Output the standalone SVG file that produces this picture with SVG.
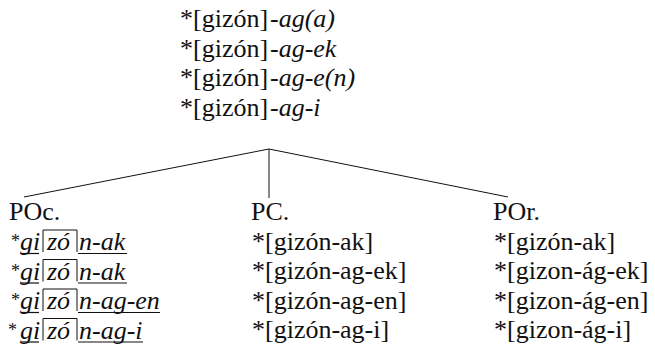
<svg xmlns="http://www.w3.org/2000/svg" width="655" height="351" viewBox="0 0 655 351">
<rect width="655" height="351" fill="#fff"/>
<g id="root" fill="#111">
<text font-family="Liberation Serif" font-size="26" x="180" y="27">*[gizón]</text><text font-family="Liberation Serif" font-size="26" font-style="italic" x="270" y="27">-ag(a)</text>
<text font-family="Liberation Serif" font-size="26" x="180" y="56.5">*[gizón]</text><text font-family="Liberation Serif" font-size="26" font-style="italic" x="270" y="56.5">-ag-ek</text>
<text font-family="Liberation Serif" font-size="26" x="180" y="86">*[gizón]</text><text font-family="Liberation Serif" font-size="26" font-style="italic" x="270" y="86">-ag-e(n)</text>
<text font-family="Liberation Serif" font-size="26" x="180" y="115.5">*[gizón]</text><text font-family="Liberation Serif" font-size="26" font-style="italic" x="270" y="115.5">-ag-i</text>
</g>
<g id="connectors" stroke="#111" stroke-width="1" fill="none">
<line x1="269" y1="149" x2="24" y2="197"/>
<line x1="269" y1="149" x2="508" y2="197"/>
<line x1="269" y1="149" x2="269" y2="198"/>
</g>
<g id="POc" fill="#111">
<text font-family="Liberation Serif" font-size="26" x="9" y="220">POc.</text>
<text font-family="Liberation Serif" font-size="18" x="11" y="247">*</text><text font-family="Liberation Serif" font-size="26" font-style="italic" x="20" y="250">gi</text><text font-family="Liberation Serif" font-size="26" font-style="italic" x="47" y="250">zó</text><text font-family="Liberation Serif" font-size="26" font-style="italic" x="79" y="250">n-ak</text>
<text font-family="Liberation Serif" font-size="18" x="11" y="276.5">*</text><text font-family="Liberation Serif" font-size="26" font-style="italic" x="20" y="279.5">gi</text><text font-family="Liberation Serif" font-size="26" font-style="italic" x="47" y="279.5">zó</text><text font-family="Liberation Serif" font-size="26" font-style="italic" x="79" y="279.5">n-ak</text>
<text font-family="Liberation Serif" font-size="18" x="11" y="306">*</text><text font-family="Liberation Serif" font-size="26" font-style="italic" x="20" y="309">gi</text><text font-family="Liberation Serif" font-size="26" font-style="italic" x="47" y="309">zó</text><text font-family="Liberation Serif" font-size="26" font-style="italic" x="79" y="309">n-ag-en</text>
<text font-family="Liberation Serif" font-size="18" x="8" y="335.5">*</text><text font-family="Liberation Serif" font-size="26" font-style="italic" x="20" y="338.5">gi</text><text font-family="Liberation Serif" font-size="26" font-style="italic" x="47" y="338.5">zó</text><text font-family="Liberation Serif" font-size="26" font-style="italic" x="79" y="338.5">n-ag-i</text>
<g stroke="#111" stroke-width="1" fill="none">
<path d="M43,252V230H77V252"/><path d="M43,281.5V259.5H77V281.5"/><path d="M43,311V289H77V311"/><path d="M43,340.5V318.5H77V340.5"/>
</g>
<g stroke="#111" stroke-width="1.2">
<line x1="21" y1="253.5" x2="39" y2="253.5"/><line x1="78" y1="253.5" x2="127" y2="253.5"/>
<line x1="21" y1="283" x2="39" y2="283"/><line x1="78" y1="283" x2="127" y2="283"/>
<line x1="21" y1="312.5" x2="39" y2="312.5"/><line x1="78" y1="312.5" x2="160" y2="312.5"/>
<line x1="21" y1="342" x2="39" y2="342"/><line x1="78" y1="342" x2="143" y2="342"/>
</g>
</g>
<g id="PC" fill="#111">
<text font-family="Liberation Serif" font-size="26" x="251" y="220">PC.</text>
<text font-family="Liberation Serif" font-size="26" x="252" y="249.5">*[gizón-ak]</text>
<text font-family="Liberation Serif" font-size="26" x="252" y="279">*[gizón-ag-ek]</text>
<text font-family="Liberation Serif" font-size="26" x="252" y="308.5">*[gizón-ag-en]</text>
<text font-family="Liberation Serif" font-size="26" x="252" y="338">*[gizón-ag-i]</text>
</g>
<g id="POr" fill="#111">
<text font-family="Liberation Serif" font-size="26" x="493" y="220">POr.</text>
<text font-family="Liberation Serif" font-size="26" x="494" y="249.5">*[gizón-ak]</text>
<text font-family="Liberation Serif" font-size="26" x="494" y="279">*[gizon-ág-ek]</text>
<text font-family="Liberation Serif" font-size="26" x="494" y="308.5">*[gizon-ág-en]</text>
<text font-family="Liberation Serif" font-size="26" x="494" y="338">*[gizon-ág-i]</text>
</g>
</svg>
